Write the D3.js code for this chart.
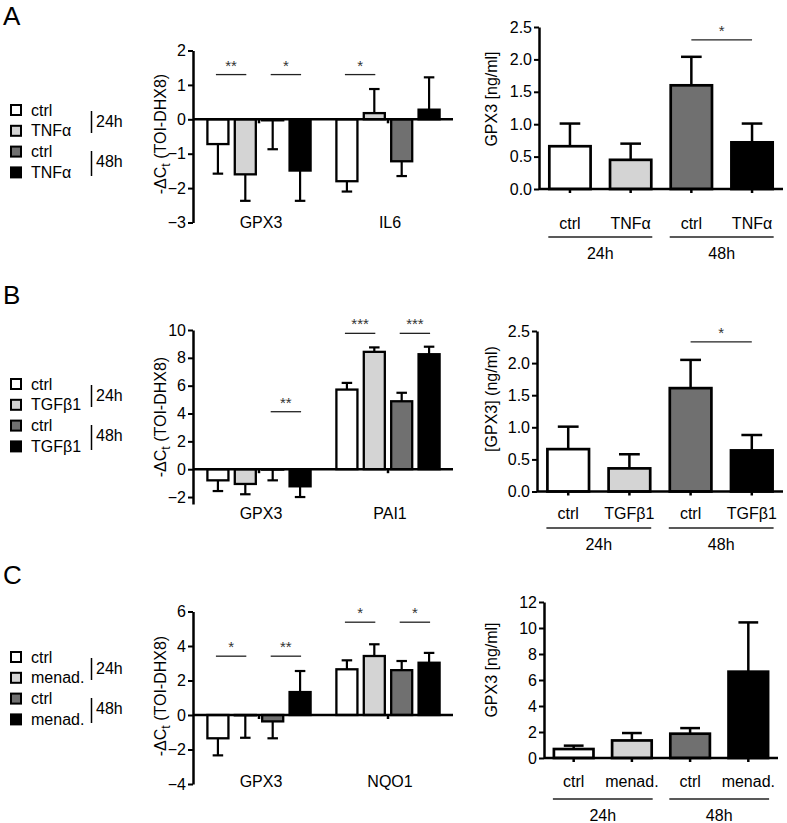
<!DOCTYPE html>
<html><head><meta charset="utf-8">
<script src="https://cdn.jsdelivr.net/npm/d3@7"></script>
<style>body{margin:0;background:#fff}svg{display:block;font-family:"Liberation Sans",Arial,sans-serif}</style>
</head><body><svg id="c" width="787" height="823"></svg>
<script>
// ---------- DATA ----------
const timeGroups = ["24h", "48h"];
// Panel A
const treatA = "TNFα";
const genesA = ["GPX3", "IL6"];
const qpcrMeanA = [[-0.72, -1.60, -0.03, -1.49], [-1.80, 0.18, -1.22, 0.28]];
const qpcrErrA = [[0.86, 0.77, 0.84, 0.88], [0.30, 0.70, 0.43, 0.94]];
const qpcrSigA = [{g: 0, a: 0, b: 1, y: 1.3, t: "**"}, {g: 0, a: 2, b: 3, y: 1.3, t: "*"}, {g: 1, a: 0, b: 1, y: 1.3, t: "*"}];
const qpcrTicksA = [-3, -2, -1, 0, 1, 2];
const elisaMeanA = [0.66, 0.45, 1.60, 0.72];
const elisaErrA = [0.35, 0.25, 0.44, 0.29];
const elisaSigA = [{a: 2, b: 3, y: 2.3, t: "*"}];
const elisaTicksA = [0, 0.5, 1.0, 1.5, 2.0, 2.5];
// Panel B
const treatB = "TGFβ1";
const genesB = ["GPX3", "PAI1"];
const qpcrMeanB = [[-0.80, -1.06, -0.03, -1.23], [5.72, 8.43, 4.88, 8.26]];
const qpcrErrB = [[0.77, 0.74, 0.77, 0.77], [0.48, 0.32, 0.61, 0.54]];
const qpcrSigB = [{g: 0, a: 2, b: 3, y: 4.13, t: "**"}, {g: 1, a: 0, b: 1, y: 9.76, t: "***"}, {g: 1, a: 2, b: 3, y: 9.76, t: "***"}];
const qpcrTicksB = [-2, 0, 2, 4, 6, 8, 10];
const elisaMeanB = [0.66, 0.36, 1.61, 0.64];
const elisaErrB = [0.35, 0.22, 0.44, 0.24];
const elisaSigB = [{a: 2, b: 3, y: 2.33, t: "*"}];
const elisaTicksB = [0, 0.5, 1.0, 1.5, 2.0, 2.5];
// Panel C
const treatC = "menad.";
const genesC = ["GPX3", "NQO1"];
const qpcrMeanC = [[-1.35, -0.02, -0.37, 1.33], [2.65, 3.42, 2.60, 3.03]];
const qpcrErrC = [[0.99, 1.30, 0.98, 1.22], [0.52, 0.68, 0.53, 0.57]];
const qpcrSigC = [{g: 0, a: 0, b: 1, y: 3.41, t: "*"}, {g: 0, a: 2, b: 3, y: 3.41, t: "**"}, {g: 1, a: 0, b: 1, y: 5.38, t: "*"}, {g: 1, a: 2, b: 3, y: 5.38, t: "*"}];
const qpcrTicksC = [-4, -2, 0, 2, 4, 6];
const elisaMeanC = [0.69, 1.35, 1.87, 6.64];
const elisaErrC = [0.26, 0.57, 0.43, 3.79];
const elisaSigC = [];
const elisaTicksC = [0, 2, 4, 6, 8, 10, 12];

// ---------- STYLE ----------
const FILLS = ["#ffffff", "#d4d4d4", "#707070", "#000000"];
const FS = 16;
const svg = d3.select("#c");
svg.append("rect").attr("width", 787).attr("height", 823).attr("fill", "#fff");

function styleAxis(ax) {
  ax.select(".domain").attr("stroke", "#000").attr("stroke-width", 2.5);
  ax.selectAll(".tick line").attr("stroke", "#000").attr("stroke-width", 2);
  ax.selectAll(".tick text").attr("font-size", FS).attr("fill", "#000").attr("font-family", '"Liberation Sans",Arial,sans-serif');
}

function errorBar(g, cx, w, y0, y1, sw) {
  g.append("line").attr("x1", cx).attr("x2", cx).attr("y1", y0).attr("y2", y1).attr("stroke", "#000").attr("stroke-width", sw);
  g.append("line").attr("x1", cx - w / 2).attr("x2", cx + w / 2).attr("y1", y1).attr("y2", y1).attr("stroke", "#000").attr("stroke-width", sw);
}

function sigMark(g, x1, x2, yy, t) {
  g.append("line").attr("x1", x1).attr("x2", x2).attr("y1", yy).attr("y2", yy).attr("stroke", "#222").attr("stroke-width", 1.3);
  g.append("text").attr("x", (x1 + x2) / 2).attr("y", yy - 4).attr("text-anchor", "middle").attr("font-size", 15).attr("fill", "#333").text(t);
}

function yLabel(g, x, y, parts) {
  const t = g.append("text").attr("transform", `translate(${x},${y}) rotate(-90)`).attr("text-anchor", "middle").attr("font-size", FS).attr("fill", "#000");
  parts(t);
}

function drawLeft(p) {
  const g = svg.append("g");
  const y = d3.scaleLinear().domain(p.yDomain).range(p.yRange);
  const gx = d3.scaleBand().domain(p.genes).range([194.5, 452.5]).paddingInner(0.2).paddingOuter(0.1);
  const bx = d3.scaleBand().domain(d3.range(4)).range([0, gx.bandwidth()]).paddingInner(0.232);
  const bw = bx.bandwidth();
  p.genes.forEach((gene, gi) => {
    p.mean[gi].forEach((m, ci) => {
      const x0 = gx(gene) + bx(ci);
      g.append("rect").attr("x", x0).attr("y", y(Math.max(0, m))).attr("width", bw)
        .attr("height", Math.abs(y(m) - y(0))).attr("fill", FILLS[ci]).attr("stroke", "#000").attr("stroke-width", 2.3);
      const dir = m < 0 ? -1 : 1;
      errorBar(g, x0 + bw / 2, bw / 2, y(m), y(m + dir * p.err[gi][ci]), 2.2);
    });
  });
  g.append("line").attr("x1", 193).attr("x2", 453).attr("y1", y(0)).attr("y2", y(0)).attr("stroke", "#000").attr("stroke-width", 2.5);
  p.genes.forEach(gene => {
    const cx = gx(gene) + gx.bandwidth() / 2;
    g.append("line").attr("x1", cx).attr("x2", cx).attr("y1", y(0)).attr("y2", y(0) + 4).attr("stroke", "#000").attr("stroke-width", 2.5);
    g.append("text").attr("x", cx + 2).attr("y", p.labelY).attr("text-anchor", "middle").attr("font-size", FS).text(gene);
  });
  const ax = g.append("g").attr("transform", "translate(193,0)")
    .call(d3.axisLeft(y).tickValues(p.ticks).tickSize(5).tickSizeOuter(0).tickPadding(2).tickFormat(d3.format("d")));
  styleAxis(ax);
  p.sig.forEach(s => {
    const xa = gx(p.genes[s.g]) + bx(s.a) + bw / 2 - 2;
    const xb = gx(p.genes[s.g]) + bx(s.b) + bw / 2 + 1;
    sigMark(g, xa, xb, y(s.y), s.t);
  });
  yLabel(g, 166, p.ylabY, t => {
    t.append("tspan").text("-ΔC");
    t.append("tspan").attr("font-size", 12).attr("dy", 4).text("t");
    t.append("tspan").attr("dy", -4).text(" (TOI-DHX8)");
  });
}

function drawRight(p) {
  const g = svg.append("g");
  const y = d3.scaleLinear().domain(p.yDomain).range(p.yRange);
  const x = d3.scaleBand().domain(d3.range(4)).range(p.xRange).paddingInner(0.32).paddingOuter(0.17);
  const bw = x.bandwidth();
  p.mean.forEach((m, ci) => {
    g.append("rect").attr("x", x(ci)).attr("y", y(m)).attr("width", bw).attr("height", y(0) - y(m))
      .attr("fill", FILLS[ci]).attr("stroke", "#000").attr("stroke-width", 2.7);
    errorBar(g, x(ci) + bw / 2, bw / 2, y(m), y(m + p.err[ci]), 2.5);
  });
  g.append("line").attr("x1", p.xRange[0]).attr("x2", p.xRange[1]).attr("y1", y(0)).attr("y2", y(0)).attr("stroke", "#000").attr("stroke-width", 2.5);
  const cats = ["ctrl", p.treat, "ctrl", p.treat];
  cats.forEach((c, ci) => {
    const cx = x(ci) + bw / 2;
    g.append("line").attr("x1", cx).attr("x2", cx).attr("y1", y(0)).attr("y2", y(0) + 4).attr("stroke", "#000").attr("stroke-width", 2.5);
    g.append("text").attr("x", cx).attr("y", p.catY).attr("text-anchor", "middle").attr("font-size", FS).text(c);
  });
  timeGroups.forEach((tg, i) => {
    const xa = x(2 * i) - 1, xb = x(2 * i + 1) + bw + 1;
    g.append("line").attr("x1", xa).attr("x2", xb).attr("y1", p.lineY).attr("y2", p.lineY).attr("stroke", "#222").attr("stroke-width", 1.3);
    g.append("text").attr("x", (xa + xb) / 2).attr("y", p.lineY + 22).attr("text-anchor", "middle").attr("font-size", FS).text(tg);
  });
  const ax = g.append("g").attr("transform", `translate(${p.xRange[0]},0)`)
    .call(d3.axisLeft(y).tickValues(p.ticks).tickSize(5).tickSizeOuter(0).tickPadding(2).tickFormat(d3.format(p.fmt)));
  styleAxis(ax);
  p.sig.forEach(s => sigMark(g, x(s.a) + bw / 2, x(s.b) + bw / 2, y(s.y), s.t));
  yLabel(g, 497, p.ylabY, t => t.text(p.ylab));
}

function drawLegend(top, treat, letter, letterY) {
  const g = svg.append("g");
  g.append("text").attr("x", 3).attr("y", letterY).attr("font-size", 26).text(letter);
  const labels = ["ctrl", treat, "ctrl", treat];
  labels.forEach((l, i) => {
    const cy = top + i * 20.8;
    g.append("rect").attr("x", 11).attr("y", cy - 5).attr("width", 10).attr("height", 10).attr("fill", FILLS[i]).attr("stroke", "#000").attr("stroke-width", 2);
    g.append("text").attr("x", 31).attr("y", cy + 5.5).attr("font-size", FS).text(l);
  });
  [[top + 1, top + 23, top + 11], [top + 41, top + 66, top + 51]].forEach((b, i) => {
    g.append("line").attr("x1", 91.5).attr("x2", 91.5).attr("y1", b[0]).attr("y2", b[1]).attr("stroke", "#000").attr("stroke-width", 1.5);
    g.append("text").attr("x", 96).attr("y", b[2] + 6).attr("font-size", FS).text(timeGroups[i]);
  });
}

// ---------- PANELS ----------
drawLegend(110, treatA, "A", 25);
drawLeft({genes: genesA, mean: qpcrMeanA, err: qpcrErrA, sig: qpcrSigA, ticks: qpcrTicksA, yDomain: [-3, 2], yRange: [222.5, 50.5], labelY: 228, ylabY: 134});
drawRight({treat: treatA, mean: elisaMeanA, err: elisaErrA, sig: elisaSigA, ticks: elisaTicksA, fmt: ".1f", yDomain: [0, 2.5], yRange: [189, 27], xRange: [539, 783], catY: 229, lineY: 237, ylab: "GPX3 [ng/ml]", ylabY: 99});

drawLegend(384, treatB, "B", 304);
drawLeft({genes: genesB, mean: qpcrMeanB, err: qpcrErrB, sig: qpcrSigB, ticks: qpcrTicksB, yDomain: [-2.5, 10], yRange: [504, 330], labelY: 519, ylabY: 417});
drawRight({treat: treatB, mean: elisaMeanB, err: elisaErrB, sig: elisaSigB, ticks: elisaTicksB, fmt: ".1f", yDomain: [0, 2.5], yRange: [491.5, 331], xRange: [537, 783], catY: 519, lineY: 528, ylab: "[GPX3] (ng/ml)", ylabY: 399});

drawLegend(657, treatC, "C", 584);
drawLeft({genes: genesC, mean: qpcrMeanC, err: qpcrErrC, sig: qpcrSigC, ticks: qpcrTicksC, yDomain: [-4, 6], yRange: [784, 611.5], labelY: 787, ylabY: 696});
drawRight({treat: treatC, mean: elisaMeanC, err: elisaErrC, sig: elisaSigC, ticks: elisaTicksC, fmt: "d", yDomain: [0, 12], yRange: [758, 602], xRange: [544, 778], catY: 787, lineY: 799, ylab: "GPX3 [ng/ml]", ylabY: 670});
</script></body></html>
